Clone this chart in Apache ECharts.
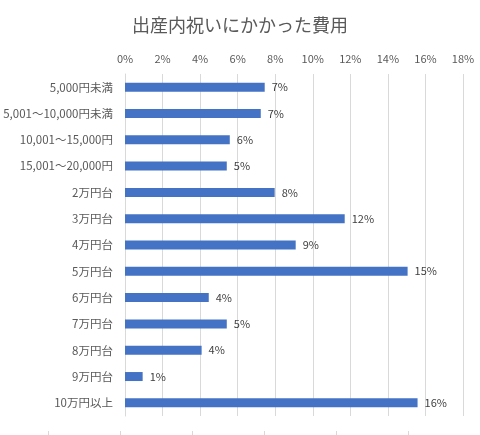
<!DOCTYPE html>
<html lang="ja" style="height: 100%">

<head>
  <meta charset="utf-8" />
</head>

<body style="height: 100%; margin: 0; background: #fff">
  <div id="container" style="width: 480px; height: 435px"></div>

  <script type="text/javascript" src="https://fastly.jsdelivr.net/npm/echarts@6/dist/echarts.min.js"></script>

  <script type="text/javascript">
    // 費用帯ごとの割合 (%)
    var categories = [
      "5,000円未満",
      "5,001～10,000円未満",
      "10,001～15,000円",
      "15,001～20,000円",
      "2万円台",
      "3万円台",
      "4万円台",
      "5万円台",
      "6万円台",
      "7万円台",
      "8万円台",
      "9万円台",
      "10万円以上",
    ];
    var shares = [7.44, 7.23, 5.58, 5.42, 7.97, 11.7, 9.09, 15.05, 4.46, 5.42, 4.08, 0.94, 15.58];

    var axisMin = 0;
    var axisMax = 18;
    var axisStep = 2;

    var font = '"Noto Sans CJK JP", "Noto Sans", sans-serif';

    var dom = document.getElementById("container");
    var myChart = echarts.init(dom, null, { renderer: "canvas" });

    var option = {
      backgroundColor: "#ffffff",
      animation: false,
      title: {
        text: "出産内祝いにかかった費用",
        left: "center",
        top: 11,
        textStyle: {
          fontFamily: font,
          fontSize: 18,
          fontWeight: "normal",
          color: "#595959",
        },
      },
      grid: [
        { left: 125, right: 17, top: 74, height: 342, containLabel: false },
        { left: 48, width: 360, bottom: 4, height: 1 },
      ],
      xAxis: [
        {
          type: "value",
          position: "top",
          min: axisMin,
          max: axisMax,
          interval: axisStep,
          axisLine: { show: false },
          axisTick: { show: false },
          splitLine: { lineStyle: { color: "#d9d9d9", width: 1 } },
          axisLabel: {
            formatter: "{value}%",
            fontFamily: font,
            fontSize: 11,
            color: "#595959",
            margin: 10,
          },
        },
        {
          // 下側の余分な目盛り
          type: "value",
          gridIndex: 1,
          position: "bottom",
          min: 0,
          max: 5,
          interval: 1,
          axisLine: { show: false },
          axisTick: { show: true, length: 5, lineStyle: { color: "#d9d9d9" } },
          axisLabel: { show: false },
          splitLine: { show: false },
        },
      ],
      yAxis: [
        {
          type: "category",
          data: categories,
          inverse: true,
          axisLine: { show: true, lineStyle: { color: "#d9d9d9" } },
          axisTick: { show: false },
          axisLabel: {
            fontFamily: font,
            fontSize: 11.5,
            color: "#595959",
            margin: 12,
          },
        },
        { type: "value", gridIndex: 1, show: false },
      ],
      series: [
        {
          type: "bar",
          data: shares,
          barWidth: 9,
          itemStyle: { color: "#4472C4" },
          label: {
            show: true,
            position: "right",
            distance: 7,
            fontFamily: font,
            fontSize: 11,
            color: "#404040",
            formatter: function (p) {
              return Math.round(p.value) + "%";
            },
          },
        },
      ],
    };

    myChart.setOption(option);
    window.addEventListener("resize", myChart.resize);
  </script>
</body>

</html>
